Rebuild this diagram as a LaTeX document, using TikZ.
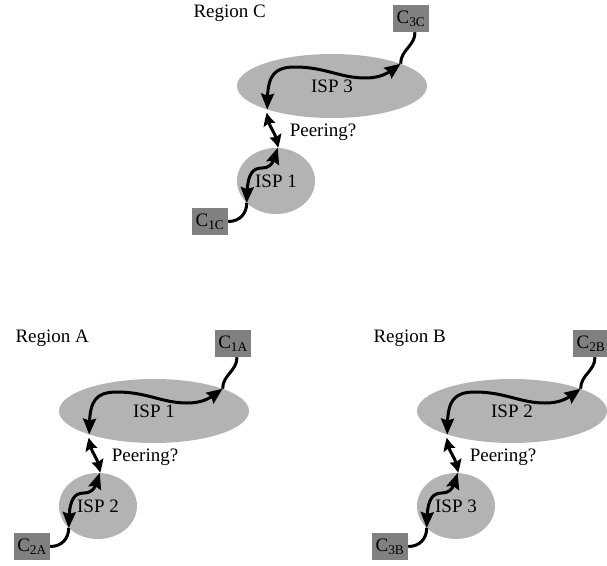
\documentclass[tikz,border=0pt]{standalone}
\usepackage{fontspec}
\setmainfont{Liberation Serif}
\usetikzlibrary{arrows.meta,bending,shapes.geometric}
\definecolor{ispgray}{RGB}{179,179,179}
\definecolor{custgray}{RGB}{128,128,128}
\begin{document}
\begin{tikzpicture}[x=1pt,y=-1pt,
    every node/.style={font=\fontsize{19}{21}\selectfont},
    isp/.style={ellipse,fill=ispgray,inner sep=0pt},
    cust/.style={rectangle,fill=custgray,inner sep=2pt,minimum width=36pt,minimum height=27pt},
    link/.style={line width=3pt},
    both/.style={line width=3pt,{Stealth[length=16pt,width=13pt,inset=2pt]}-{Stealth[length=16pt,width=13pt,inset=2pt]}},
    peerlink/.style={line width=3pt,{Stealth[length=13pt,width=12pt,inset=2pt,bend]}-{Stealth[length=13pt,width=12pt,inset=2pt,bend]}}]
    \useasboundingbox (0,0) rectangle (607,565);
    \foreach \dx/\dy/\reg/\ispbig/\ispsmall/\cbig/\csmall in
        {0/0/C/3/1/3C/1C, -178/325/A/1/2/1A/2A, 180/325/B/2/3/2B/3B}{
    \begin{scope}[shift={(\dx,\dy)}]
        \node[anchor=west] (reg\reg) at (190,13) {Region \reg};
        \node[isp,minimum width=190pt,minimum height=64pt] (big\reg) at (332,86) {\raisebox{-3pt}{ISP \ispbig}};
        \node[isp,minimum width=78pt,minimum height=66pt] (small\reg) at (276,181) {ISP \ispsmall};
        \node[cust] (cbig\reg) at (411,18.5) {C\textsubscript{\cbig}};
        \node[cust] (csmall\reg) at (210,221.5) {C\textsubscript{\csmall}};
        \node (peer\reg) at (323,132) {Peering?};
        % customer links
        \draw[link] ([xshift=4pt]cbig\reg.south) .. controls +(0,14) and +(0,-14) .. (big\reg.18);
        \draw[link] (csmall\reg.east) .. controls +(12,0) and +(0,10) .. (small\reg.217);
        % paths inside the ISPs
        \draw[both] (big\reg.200) .. controls +(0,-30) and +(-25,0) .. (295,67)
            .. controls +(30,0) and +(-25,0) .. (365,78) .. controls +(15,0) and +(-12,10) .. (big\reg.18);
        \draw[both] (small\reg.217) .. controls +(0,-25) and +(-12,0) .. (262,168)
            .. controls +(10,0) and +(-3,12) .. (small\reg.87);
        % peering
        \draw[peerlink] ([yshift=-3pt]big\reg.200) .. controls +(0,16) and +(0,-16) .. (small\reg.87);
    \end{scope}
    }
\end{tikzpicture}
\end{document}
